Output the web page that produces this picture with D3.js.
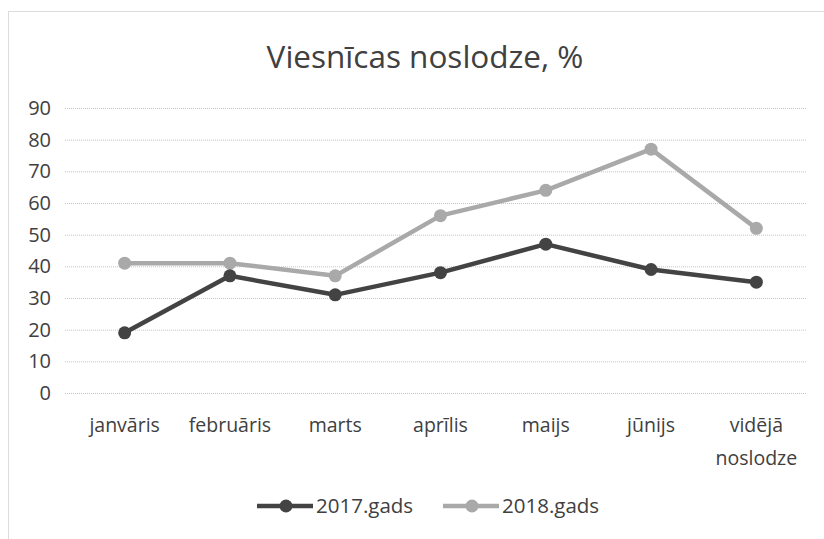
<!DOCTYPE html>
<html>
<head>
<meta charset="utf-8">
<script src="https://cdn.jsdelivr.net/npm/d3@7"></script>
<style>
  body { margin: 0; background: #fff; }
  svg text { font-family: "Open Sans", "Noto Sans", sans-serif; fill: #404040; }
</style>
</head>
<body>
<svg id="chart" width="824" height="539"></svg>
<script>
// chart data
const categories = ["janvāris", "februāris", "marts", "aprīlis", "maijs", "jūnijs", "vidējā noslodze"];
const values2017 = [19, 37, 31, 38, 47, 39, 35];
const values2018 = [41, 41, 37, 56, 64, 77, 52];
const yTicks = [0, 10, 20, 30, 40, 50, 60, 70, 80, 90];
const seriesNames = ["2017.gads", "2018.gads"];

const series = [
  { name: seriesNames[1], values: values2018, color: "#a9a9a9" },
  { name: seriesNames[0], values: values2017, color: "#434343" }
];

const svg = d3.select("#chart");
const margin = { top: 108, right: 15, bottom: 146, left: 72 };

// dotted frame around the chart area
svg.append("rect")
  .attr("x", 8.5).attr("y", 11.5)
  .attr("width", 830).attr("height", 540)
  .attr("fill", "none")
  .attr("stroke", "#b8b8b8")
  .attr("stroke-dasharray", "1,1");

svg.append("text")
  .attr("x", 425).attr("y", 68)
  .attr("text-anchor", "middle")
  .attr("font-size", 31.5)
  .text("Viesnīcas noslodze, %");

const x = d3.scaleBand()
  .domain(categories)
  .range([margin.left, 809]);

const y = d3.scaleLinear()
  .domain([0, 90])
  .range([393, margin.top]);

// y labels
const yAxis = svg.append("g")
  .attr("transform", "translate(51,0)")
  .call(d3.axisLeft(y).tickValues(yTicks).tickSize(0).tickPadding(0));
yAxis.select(".domain").remove();
yAxis.selectAll("text").attr("font-size", 20).attr("fill", "#404040");

// gridlines
svg.append("g")
  .selectAll("line")
  .data(yTicks)
  .join("line")
  .attr("x1", 65).attr("x2", 806)
  .attr("y1", (d) => y(d) + 0.5).attr("y2", (d) => y(d) + 0.5)
  .attr("stroke", "#c4c4c4")
  .attr("stroke-dasharray", "1,1");

// category labels (the last one wraps onto two lines)
svg.append("g")
  .selectAll("text")
  .data(categories)
  .join("text")
  .attr("x", (d) => x(d) + x.bandwidth() / 2)
  .attr("y", 432)
  .attr("text-anchor", "middle")
  .attr("font-size", 19.5)
  .each(function (d) {
    d3.select(this).selectAll("tspan")
      .data(d.split(" "))
      .join("tspan")
      .attr("x", x(d) + x.bandwidth() / 2)
      .attr("dy", (w, i) => (i === 0 ? 0 : 33))
      .text((w) => w);
  });

const line = d3.line()
  .x((d, i) => x(categories[i]) + x.bandwidth() / 2)
  .y((d) => y(d));

for (const s of series) {
  svg.append("path")
    .datum(s.values)
    .attr("fill", "none")
    .attr("stroke", s.color)
    .attr("stroke-width", 4.5)
    .attr("stroke-linejoin", "round")
    .attr("d", line);

  svg.append("g")
    .selectAll("circle")
    .data(s.values)
    .join("circle")
    .attr("cx", (d, i) => x(categories[i]) + x.bandwidth() / 2)
    .attr("cy", (d) => y(d))
    .attr("r", 6.5)
    .attr("fill", s.color);
}

// legend
const legendItems = [
  { name: seriesNames[0], color: "#434343", x: 257 },
  { name: seriesNames[1], color: "#a9a9a9", x: 443 }
];
const item = svg.append("g")
  .attr("transform", "translate(0,506)")
  .selectAll("g")
  .data(legendItems)
  .join("g")
  .attr("transform", (d) => `translate(${d.x},0)`);
item.append("line")
  .attr("x1", 0).attr("x2", 56)
  .attr("stroke", (d) => d.color)
  .attr("stroke-width", 4.5);
item.append("circle")
  .attr("cx", 29).attr("r", 6.5)
  .attr("fill", (d) => d.color);
item.append("text")
  .attr("x", 59).attr("dy", "0.35em")
  .attr("font-size", 20.5)
  .text((d) => d.name);
</script>
</body>
</html>
